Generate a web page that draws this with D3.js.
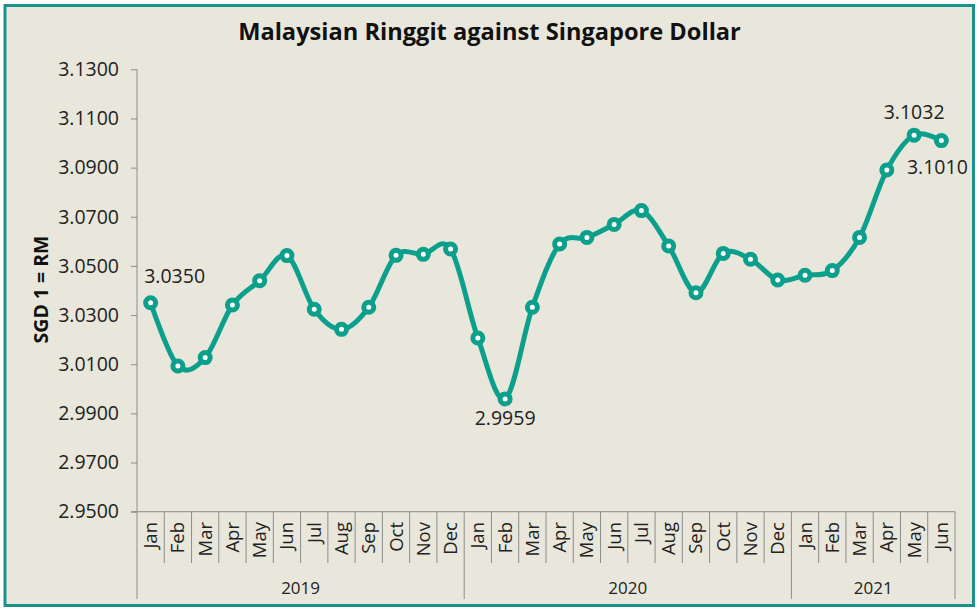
<!DOCTYPE html>
<html><head><meta charset="utf-8">
<script src="https://cdn.jsdelivr.net/npm/d3@7"></script>
<style>body{margin:0;background:#fff;}svg{display:block;}</style>
</head><body>
<script>
const months = ["Jan","Feb","Mar","Apr","May","Jun","Jul","Aug","Sep","Oct","Nov","Dec",
                "Jan","Feb","Mar","Apr","May","Jun","Jul","Aug","Sep","Oct","Nov","Dec",
                "Jan","Feb","Mar","Apr","May","Jun"];
const years = ["2019","2020","2021"];
const yearOf = [0,0,0,0,0,0,0,0,0,0,0,0,1,1,1,1,1,1,1,1,1,1,1,1,2,2,2,2,2,2];
const rates = [3.0350,3.0093,3.0127,3.0341,3.0440,3.0542,3.0324,3.0242,3.0332,3.0543,3.0547,3.0569,
               3.0207,2.9959,3.0332,3.0589,3.0616,3.0669,3.0725,3.0581,3.0391,3.0551,3.0527,3.0443,
               3.0462,3.0481,3.0616,3.0890,3.1032,3.1010];
const yTicks = [2.95,2.97,2.99,3.01,3.03,3.05,3.07,3.09,3.11,3.13];
const labelled = [0,13,28,29];

(function(){
const W=979,H=609;
const svg=d3.select("body").append("svg").attr("width",W).attr("height",H);
svg.append("rect").attr("x",5).attr("y",5.5).attr("width",968.5).attr("height",600)
  .attr("fill","#E9E7DB").attr("stroke","#1B918B").attr("stroke-width",3);

const pL=137,pR=955,pT=69.3,pB=511.7;
const idx=d3.range(months.length);
const x=d3.scaleBand().domain(idx).range([pL,pR]).padding(0);
const y=d3.scaleLinear().domain([2.95,3.13]).range([pB,pT]);
const font="'Open Sans','Lato',sans-serif";
const axisColor="#8C8C8C";

function fit(sel,w){const n=sel.node();const l=n.getComputedTextLength();const fs=+sel.attr("font-size");sel.attr("font-size",fs*w/l);}

const title=svg.append("text").attr("x",489.5).attr("y",40).attr("text-anchor","middle")
  .attr("font-family",font).attr("font-weight","bold").attr("font-size",21)
  .attr("fill","#111").text("Malaysian Ringgit against Singapore Dollar");
fit(title,503);

// y axis
const yAxis=svg.append("g").attr("transform",`translate(${pL},0)`)
  .call(d3.axisLeft(y).tickValues(yTicks).tickFormat(d3.format(".4f")).tickSize(6).tickPadding(12));
yAxis.selectAll("path,line").attr("stroke",axisColor);
yAxis.select(".domain").attr("d",`M0,${pT}V${pB}`);
yAxis.selectAll("text").attr("font-family",font).attr("font-size",19.5).attr("fill","#222");

const yt=svg.append("text").attr("transform",`translate(48,${(pT+pB)/2-1}) rotate(-90)`)
  .attr("text-anchor","middle").attr("font-family",font).attr("font-weight","bold")
  .attr("font-size",17).attr("fill","#111").text("SGD 1 = RM");
fit(yt,108);

// x axis
const xg=svg.append("g");
xg.append("line").attr("x1",pL-6).attr("x2",pR).attr("y1",pB).attr("y2",pB).attr("stroke",axisColor);
idx.forEach(i=>{
  const xs=x(i);
  const isYear = i===0 || yearOf[i]!==yearOf[i-1];
  xg.append("line").attr("x1",xs).attr("x2",xs).attr("y1",pB).attr("y2",isYear?599:563).attr("stroke",axisColor);
});
xg.append("line").attr("x1",pR).attr("x2",pR).attr("y1",pB).attr("y2",599).attr("stroke",axisColor);
xg.selectAll("text.m").data(idx).join("text").attr("class","m")
  .attr("transform",i=>`translate(${x(i)+x.bandwidth()/2+6.5},522) rotate(-90)`)
  .attr("text-anchor","end").attr("font-family",font).attr("font-size",18.5).attr("fill","#222")
  .text(i=>months[i]);
years.forEach((yr,k)=>{
  const ids=idx.filter(i=>yearOf[i]===k);
  const x0=x(ids[0]), x1=x(ids[ids.length-1])+x.bandwidth();
  xg.append("text").attr("x",(x0+x1)/2).attr("y",594).attr("text-anchor","middle")
    .attr("font-family",font).attr("font-size",17).attr("fill","#222").text(yr);
});

// line
const cx=i=>x(i)+x.bandwidth()/2;
const line=d3.line().x(i=>cx(i)).y(i=>y(rates[i])).curve(d3.curveCardinal.tension(0));
svg.append("path").attr("d",line(idx)).attr("fill","none").attr("stroke","#0CA08C").attr("stroke-width",5);
svg.selectAll("circle.p").data(idx).join("circle").attr("class","p")
  .attr("cx",cx).attr("cy",i=>y(rates[i])).attr("r",5).attr("fill","#fff")
  .attr("stroke","#0CA08C").attr("stroke-width",5);

// data labels
const off={0:[24,-20],13:[0,26],28:[0,-16],29:[-4,33]};
svg.selectAll("text.lab").data(labelled).join("text").attr("class","lab")
  .attr("x",i=>cx(i)+off[i][0]).attr("y",i=>y(rates[i])+off[i][1])
  .attr("text-anchor","middle").attr("font-family",font).attr("font-size",19.5).attr("fill","#222")
  .text(i=>rates[i].toFixed(4));
})();
</script>
</body></html>
